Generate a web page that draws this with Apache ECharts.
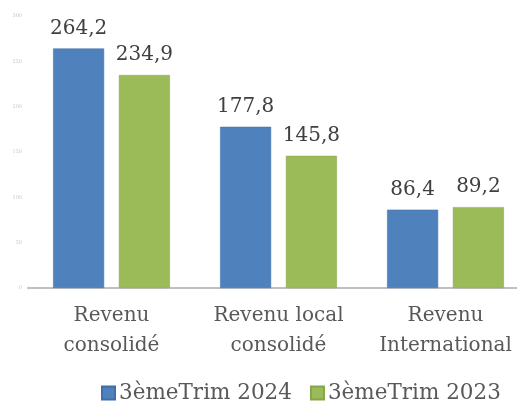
<!DOCTYPE html>
<html><head><meta charset="utf-8">
<script src="https://cdn.jsdelivr.net/npm/echarts@6/dist/echarts.min.js"></script>
<style>html,body{margin:0;padding:0;background:#fff;overflow:hidden}#c{width:530px;height:405px}</style>
</head><body><div id="c"></div>
<script>
const categories = ["Revenu\nconsolidé", "Revenu local\nconsolidé", "Revenu\nInternational"];
const series2024 = [264.2, 177.8, 86.4];
const series2023 = [234.9, 145.8, 89.2];
const seriesNames = ["3èmeTrim 2024", "3èmeTrim 2023"];
const yTicks = { min: 0, max: 300, interval: 50 };

const font = "DejaVu Serif";
const chart = echarts.init(document.getElementById('c'), null, {renderer: 'canvas'});
const lbl = {
  show: true, position: 'top', distance: 10,
  fontFamily: font, fontSize: 20, color: '#404040',
  formatter: p => String(p.value).replace('.', ',')
};
chart.setOption({
  animation: false,
  textStyle: { fontFamily: font },
  legend: {
    top: 382, left: 101, padding: 0, itemWidth: 13, itemHeight: 13, itemGap: 18,
    icon: 'rect',
    textStyle: { fontFamily: font, fontSize: 21.5, color: '#595959', padding: [0, 0, 0, -1] },
    data: seriesNames
  },
  grid: { left: 28, right: 1, top: 16, bottom: 117 },
  xAxis: {
    type: 'category', data: categories,
    axisLine: { lineStyle: { color: '#bfbfbf', width: 2 } },
    axisTick: { show: false },
    axisLabel: { fontFamily: font, fontSize: 20, color: '#595959', lineHeight: 30, margin: 13, interval: 0 }
  },
  yAxis: {
    type: 'value', min: yTicks.min, max: yTicks.max, interval: yTicks.interval,
    splitLine: { show: false }, axisLine: { show: false }, axisTick: { show: false },
    axisLabel: { fontSize: 5, color: '#c8c8c8', margin: 6 }
  },
  series: [
    { name: seriesNames[0], type: 'bar', data: series2024, barWidth: 51, barGap: '29%',
      itemStyle: { color: '#4F81BD', borderColor: '#3f6fa8', borderWidth: 0.5 }, label: lbl },
    { name: seriesNames[1], type: 'bar', data: series2023, barWidth: 51,
      itemStyle: { color: '#9BBB59', borderColor: '#86a54a', borderWidth: 0.5 }, label: lbl }
  ]
});
</script></body></html>
